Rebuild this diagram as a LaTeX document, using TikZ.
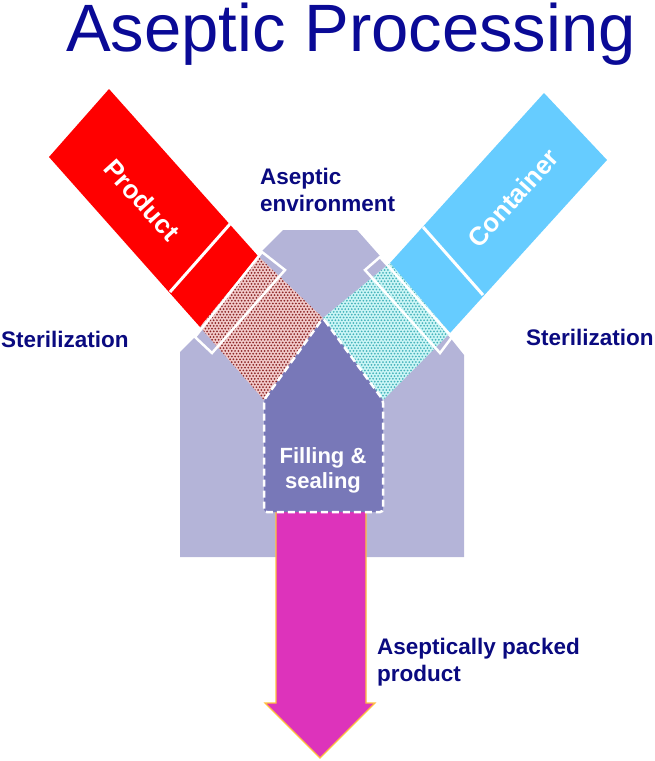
\documentclass[tikz,border=0pt]{standalone}
\usepackage{fontspec}
\setmainfont{Liberation Sans}
\usetikzlibrary{patterns}
\definecolor{lav}{HTML}{B4B4D8}
\definecolor{pent}{HTML}{7878B8}
\definecolor{armred}{HTML}{FF0000}
\definecolor{armcyan}{HTML}{66CCFF}
\definecolor{magarrow}{HTML}{DD33BB}
\definecolor{arrowedge}{HTML}{FFC040}
\definecolor{titleblue}{HTML}{0A0A96}
\definecolor{lblblue}{HTML}{0A0A80}
\definecolor{redbg}{HTML}{F2CACA}
\definecolor{reddot}{HTML}{8E2A2A}
\definecolor{cyanbg}{HTML}{CCF6F6}
\definecolor{cyandot}{HTML}{48B4BC}
\pgfdeclarepatternformonly{hexdots}{\pgfqpoint{-1.2pt}{-1.2pt}}{\pgfqpoint{3.2pt}{4.2pt}}{\pgfqpoint{3.3pt}{5.6pt}}{%
  \pgfpathcircle{\pgfqpoint{0pt}{0pt}}{1.0pt}%
  \pgfpathcircle{\pgfqpoint{1.65pt}{2.8pt}}{1.0pt}%
  \pgfusepath{fill}}
\tikzset{
  lbl/.style={text=lblblue, font=\fontsize{22.5bp}{27bp}\selectfont\bfseries, inner sep=0pt, align=left},
  armtext/.style={text=white, font=\fontsize{26bp}{30bp}\selectfont\bfseries, inner sep=0pt},
  divider/.style={draw=white, line width=3bp},
  outlinebox/.style={draw=white, line width=2.5bp},
  redhatch/.style={preaction={fill=redbg}, pattern=hexdots, pattern color=reddot},
  cyanhatch/.style={preaction={fill=cyanbg}, pattern=hexdots, pattern color=cyandot},
}
\begin{document}
\begin{tikzpicture}[x=1bp,y=-1bp]
\useasboundingbox (0,0) rectangle (655,761);
% aseptic environment background
\fill[lav] (180,557) -- (180,352) -- (195,337) -- (261,252) -- (283,230) -- (357,230)
  -- (380,256) -- (452,340) -- (464,355) -- (464,557) -- cycle;
% output arrow
\filldraw[fill=magarrow, draw=arrowedge, line width=1.2bp]
  (276,505) -- (366,505) -- (366,703) -- (375,703) -- (320,758) -- (265,703) -- (276,703) -- cycle;
% product arm
\fill[armred] (109,89) -- (258,256) -- (200,327) -- (49,157) -- cycle;
\draw[divider] (230,224) -- (170,292);
% container arm
\fill[armcyan] (544,93) -- (607,160) -- (450,333) -- (390,263) -- cycle;
\draw[divider] (423,227) -- (483,295);
% sterilized (hatched) zones
\path[redhatch] (258,256) -- (323,318) -- (264,400) -- (200,327) -- cycle;
\path[cyanhatch] (390,263) -- (450,333) -- (383,400) -- (323,318) -- cycle;
% white outline bands
\draw[outlinebox] (262,252) -- (285,270) -- (212,353) -- (195,337) -- cycle;
\draw[outlinebox] (380,257) -- (452,337) -- (440,353) -- (365,270) -- cycle;
% filling & sealing
\filldraw[fill=pent, draw=white, line width=2.5bp, dash pattern=on 7bp off 4bp, rounded corners=3bp]
  (323,318) -- (383,400) -- (383,512) -- (264,512) -- (264,400) -- cycle;
% texts
\node[anchor=base west, inner sep=0pt, text=titleblue, font=\fontsize{67bp}{80bp}\selectfont] (title) at (66,52) {Aseptic Processing};
\node[armtext, rotate=-48] (product) at (142,200) {Product};
\node[armtext, rotate=48] (container) at (513,198) {Container};
\node[lbl, anchor=north west] (env) at (260,168) {Aseptic\\environment};
\node[lbl, anchor=base west] (sterL) at (1,347) {Sterilization};
\node[lbl, anchor=base west] (sterR) at (526,345) {Sterilization};
\node[lbl, anchor=north west] (packed) at (377,638) {Aseptically packed\\product};
\node[text=white, font=\fontsize{22bp}{25bp}\selectfont\bfseries, inner sep=0pt, align=center, anchor=north] (fill) at (323,447) {Filling \&\\sealing};
\end{tikzpicture}
\end{document}
